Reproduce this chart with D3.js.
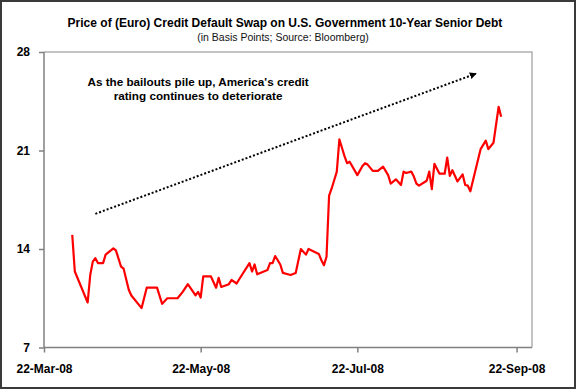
<!DOCTYPE html>
<html lang="en">

<head>
    <meta charset="UTF-8">
    <title>Euro CDS on US debt</title>
    <script src="https://d3js.org/d3.v7.min.js"></script>
    <style>
        body { margin: 0; background: #fff; }
        svg { width: 576px; height: 389px; display: block; font-family: Arial, "Liberation Sans", sans-serif; }
    </style>
</head>

<body>
    <svg id="chart"></svg>

    <script>
        // data
        var dates = [
            "2008-04-02", "2008-04-03", "2008-04-08", "2008-04-09", "2008-04-10", "2008-04-11", "2008-04-12",
            "2008-04-14", "2008-04-15", "2008-04-18", "2008-04-19", "2008-04-21", "2008-04-22", "2008-04-24",
            "2008-04-25", "2008-04-29", "2008-05-01", "2008-05-05", "2008-05-07", "2008-05-09", "2008-05-13",
            "2008-05-15", "2008-05-17", "2008-05-20", "2008-05-21", "2008-05-22", "2008-05-23", "2008-05-26",
            "2008-05-28", "2008-05-29", "2008-05-30", "2008-06-02", "2008-06-03", "2008-06-05", "2008-06-06",
            "2008-06-10", "2008-06-11", "2008-06-12", "2008-06-13", "2008-06-17", "2008-06-18", "2008-06-19",
            "2008-06-20", "2008-06-22", "2008-06-23", "2008-06-26", "2008-06-28", "2008-06-30", "2008-07-02",
            "2008-07-03", "2008-07-07", "2008-07-08", "2008-07-09", "2008-07-10", "2008-07-11", "2008-07-12",
            "2008-07-14", "2008-07-15", "2008-07-17", "2008-07-18", "2008-07-19", "2008-07-22", "2008-07-24",
            "2008-07-25", "2008-07-26", "2008-07-28", "2008-07-30", "2008-08-01", "2008-08-03", "2008-08-04",
            "2008-08-06", "2008-08-08", "2008-08-09", "2008-08-10", "2008-08-12", "2008-08-13", "2008-08-14",
            "2008-08-15", "2008-08-18", "2008-08-19", "2008-08-20", "2008-08-21", "2008-08-23", "2008-08-25",
            "2008-08-26", "2008-08-27", "2008-08-28", "2008-08-30", "2008-09-01", "2008-09-02", "2008-09-03",
            "2008-09-04", "2008-09-08", "2008-09-10", "2008-09-11", "2008-09-13", "2008-09-15", "2008-09-16"
        ];
        var values = [
            15.0, 12.4, 10.2, 12.15, 13.1, 13.35, 13.0,
            13.0, 13.6, 14.05, 13.9, 12.75, 12.6, 11.1,
            10.7, 9.8, 11.25, 11.25, 10.1, 10.5, 10.5,
            10.95, 11.5, 10.7, 10.95, 10.55, 12.05, 12.05,
            11.25, 11.95, 11.3, 11.5, 11.8, 11.55, 11.85,
            13.0, 12.4, 12.9, 12.2, 12.5, 13.0, 13.0,
            13.5, 12.9, 12.3, 12.15, 12.3, 14.0, 13.6,
            14.0, 13.65, 13.2, 12.85, 13.45, 17.8, 18.3,
            19.5, 21.8, 20.6, 20.1, 20.2, 19.25, 19.9,
            20.1, 20.0, 19.55, 19.55, 19.85, 19.25, 18.65,
            18.95, 18.55, 19.5, 19.4, 19.5, 19.15, 18.65,
            18.5, 18.85, 19.5, 18.25, 20.05, 19.35, 19.35,
            20.5, 19.2, 19.6, 18.8, 19.3, 18.55, 18.5,
            18.1, 21.1, 21.7, 21.1, 21.55, 24.1, 23.4
        ];
        var xTicks = ["2008-03-22", "2008-05-22", "2008-07-22", "2008-09-22"];
        var yTicks = [7, 14, 21, 28];

        var title = "Price of (Euro) Credit Default Swap on U.S. Government 10-Year Senior Debt";
        var subtitle = "(in Basis Points; Source: Bloomberg)";
        var noteLines = ["As the bailouts pile up, America's credit", "rating continues to deteriorate"];
        // trend arrow ends, in data units
        var arrowFrom = ["2008-04-11", 16.5];
        var arrowTo = ["2008-09-06", 26.45];

        function program() {
            var parse = d3.utcParse("%Y-%m-%d");
            var svg = d3.select("#chart");

            var x = d3.scaleUtc()
                .domain([parse("2008-03-22"), parse("2008-09-28")])
                .range([44, 532]);
            var y = d3.scaleLinear()
                .domain([7, 28])
                .range([347.5, 52]);

            // outer frame
            svg.append("rect")
                .attr("x", 1).attr("y", 1)
                .attr("width", 574).attr("height", 387)
                .attr("fill", "#fff")
                .attr("stroke", "#3a3a3a")
                .attr("stroke-width", 2);

            // plot border top/right
            svg.append("path")
                .attr("d", `M44,52H532V347.5`)
                .attr("fill", "none")
                .attr("stroke", "#b0b0b0")
                .attr("stroke-width", 1.5);

            // titles
            svg.append("text")
                .attr("x", 285).attr("y", 26.5)
                .attr("text-anchor", "middle")
                .attr("font-size", "12px")
                .attr("font-weight", "bold")
                .text(title);
            svg.append("text")
                .attr("x", 283).attr("y", 41)
                .attr("text-anchor", "middle")
                .attr("font-size", "10.5px")
                .attr("fill", "#111")
                .text(subtitle);

            // axes
            var yAxis = d3.axisLeft(y)
                .tickValues(yTicks)
                .tickSize(5)
                .tickPadding(9)
                .tickFormat(d3.format("d"));
            var gy = svg.append("g")
                .attr("transform", "translate(44,0)")
                .call(yAxis);

            var xAxis = d3.axisBottom(x)
                .tickValues(xTicks.map(parse))
                .tickSize(5)
                .tickPadding(12)
                .tickFormat(d3.utcFormat("%-d-%b-%y"));
            var gx = svg.append("g")
                .attr("transform", "translate(0,347.5)")
                .call(xAxis);

            [gx, gy].forEach(function(g) {
                g.select(".domain").attr("stroke", "#808080").attr("stroke-width", 1.5);
                g.selectAll(".tick line").attr("stroke", "#808080").attr("stroke-width", 1.5);
                g.selectAll("text")
                    .attr("fill", "#000")
                    .attr("font-size", "12px")
                    .attr("font-weight", "bold")
                    .attr("font-family", "Arial, 'Liberation Sans', sans-serif");
            });
            gx.select(".domain").attr("d", "M44,0H532");
            gy.select(".domain").attr("d", "M0,52V347.5");

            // series
            var series = dates.map(function(d, i) { return { date: parse(d), value: values[i] }; });
            var line = d3.line()
                .x(function(d) { return x(d.date); })
                .y(function(d) { return y(d.value); });
            svg.append("path")
                .datum(series)
                .attr("d", line)
                .attr("fill", "none")
                .attr("stroke", "#ff0000")
                .attr("stroke-width", 2.2)
                .attr("stroke-linejoin", "round");

            // annotation arrow
            svg.append("defs").append("marker")
                .attr("id", "head")
                .attr("viewBox", "0 0 10 10")
                .attr("refX", 8).attr("refY", 5)
                .attr("markerWidth", 7).attr("markerHeight", 7)
                .attr("markerUnits", "userSpaceOnUse")
                .attr("orient", "auto")
                .append("path")
                .attr("d", "M0,0L10,5L0,10Z")
                .attr("fill", "#000");

            svg.append("line")
                .attr("x1", x(parse(arrowFrom[0]))).attr("y1", y(arrowFrom[1]))
                .attr("x2", x(parse(arrowTo[0]))).attr("y2", y(arrowTo[1]))
                .attr("stroke", "#000")
                .attr("stroke-width", 2)
                .attr("stroke-dasharray", "2,2")
                .attr("marker-end", "url(#head)");

            var note = svg.append("text")
                .attr("text-anchor", "middle")
                .attr("font-size", "11.7px")
                .attr("font-weight", "bold");
            noteLines.forEach(function(t, i) {
                note.append("tspan")
                    .attr("x", x(parse("2008-05-21")))
                    .attr("y", y(25.6) + i * 14)
                    .text(t);
            });
        }

        program();
    </script>
</body>

</html>
